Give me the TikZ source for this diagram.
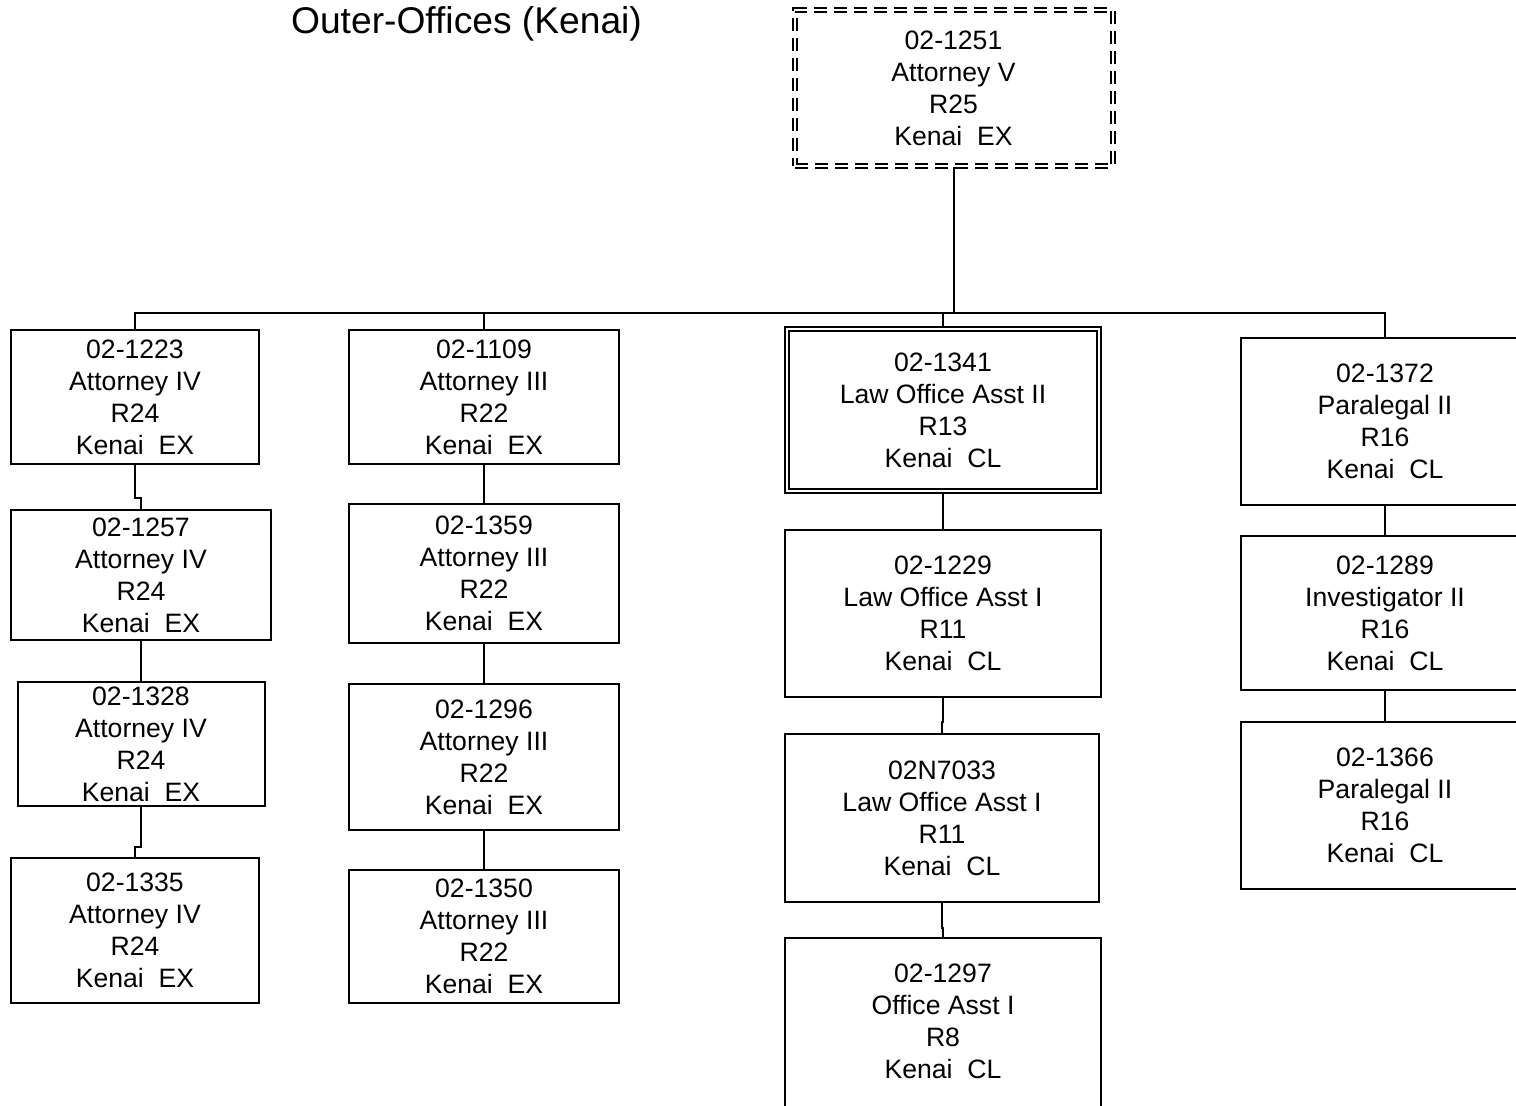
\documentclass[tikz,border=0pt]{standalone}
\usepackage{fontspec}
\setmainfont{Liberation Sans}

\begin{document}
\begin{tikzpicture}[
    x=0.5pt, y=-0.5pt,
    every node/.style={align=center, inner sep=0pt, font=\fontsize{13.3pt}{16pt}\selectfont},
    post/.style={draw, rectangle, line width=1pt},
    lead/.style={post, double, double distance=1pt},
    acting/.style={lead, dash pattern=on 6.5pt off 3.5pt},
    link/.style={line width=1pt}
]
\useasboundingbox (0,0) rectangle (1516,1105);
\fill[white] (0,0) rectangle (1516,1105);
\clip (0,0) rectangle (1516,1105);

\node[font=\fontsize{18.6pt}{22pt}\selectfont] (title) at (466.5,24) {Outer-Offices (Kenai)};

% supervisor
\node[acting, minimum width=159pt, minimum height=78pt] (top) at (953.5,88)
    {02-1251\\Attorney V\\R25\\Kenai~~EX};

% attorneys IV
\node[post, minimum width=124pt, minimum height=67pt] (A1) at (135,397)
    {02-1223\\Attorney IV\\R24\\Kenai~~EX};
\node[post, minimum width=130pt, minimum height=65pt] (A2) at (141,575)
    {02-1257\\Attorney IV\\R24\\Kenai~~EX};
\node[post, minimum width=123.5pt, minimum height=62pt] (A3) at (141,744)
    {02-1328\\Attorney IV\\R24\\Kenai~~EX};
\node[post, minimum width=124pt, minimum height=72.5pt] (A4) at (135,930.5)
    {02-1335\\Attorney IV\\R24\\Kenai~~EX};

% attorneys III
\node[post, minimum width=135pt, minimum height=67pt] (B1) at (484,397)
    {02-1109\\Attorney III\\R22\\Kenai~~EX};
\node[post, minimum width=135pt, minimum height=69.5pt] (B2) at (484,573.5)
    {02-1359\\Attorney III\\R22\\Kenai~~EX};
\node[post, minimum width=135pt, minimum height=73pt] (B3) at (484,757)
    {02-1296\\Attorney III\\R22\\Kenai~~EX};
\node[post, minimum width=135pt, minimum height=66.5pt] (B4) at (484,936.5)
    {02-1350\\Attorney III\\R22\\Kenai~~EX};

% law office staff
\node[lead, minimum width=156pt, minimum height=81pt] (C1) at (943,410)
    {02-1341\\Law Office Asst II\\R13\\Kenai~~CL};
\node[post, minimum width=158pt, minimum height=83.5pt] (C2) at (943,613.5)
    {02-1229\\Law Office Asst I\\R11\\Kenai~~CL};
\node[post, minimum width=157pt, minimum height=84pt] (C3) at (942,818)
    {02N7033\\Law Office Asst I\\R11\\Kenai~~CL};
\node[post, minimum width=158pt, minimum height=90pt, text depth=7pt] (C4) at (943,1028)
    {02-1297\\Office Asst I\\R8\\Kenai~~CL};

% paralegals
\node[post, minimum width=144pt, minimum height=83.5pt] (D1) at (1385,421.5)
    {02-1372\\Paralegal II\\R16\\Kenai~~CL};
\node[post, minimum width=144pt, minimum height=77pt] (D2) at (1385,613)
    {02-1289\\Investigator II\\R16\\Kenai~~CL};
\node[post, minimum width=144pt, minimum height=83.5pt] (D3) at (1385,805.5)
    {02-1366\\Paralegal II\\R16\\Kenai~~CL};

% connectors
\coordinate (bus) at (953.5,313);
\draw[link] (top.south) -- (bus);
\draw[link] (A1.north) |- (bus) -| (D1.north);
\draw[link] (B1.north) -- (B1.north |- bus);
\draw[link] (C1.north) -- (C1.north |- bus);

\draw[link] (A1.south) -- ++(0,33) -| (A2.north);
\draw[link] (A2.south) -- (A3.north);
\draw[link] (A3.south) -- ++(0,40) -| (A4.north);

\draw[link] (B1.south) -- (B2.north);
\draw[link] (B2.south) -- (B3.north);
\draw[link] (B3.south) -- (B4.north);

\draw[link] (C1.south) -- (C2.north);
\draw[link] (C2.south) -- ++(0,24) -| (C3.north);
\draw[link] (C3.south) -- ++(0,25) -| (C4.north);

\draw[link] (D1.south) -- (D2.north);
\draw[link] (D2.south) -- (D3.north);
\end{tikzpicture}
\end{document}
